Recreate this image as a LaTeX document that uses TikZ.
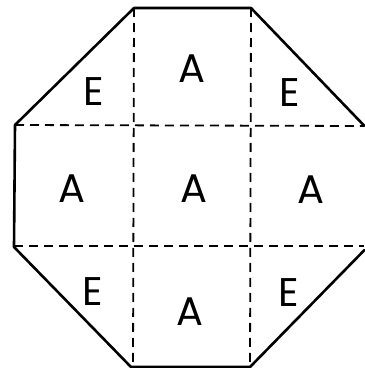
\documentclass[tikz,border=0pt]{standalone}
\usepackage{fontspec}
\setmainfont{Poppins}
\begin{document}
\begin{tikzpicture}[x=1pt,y=1pt,
  edge/.style={line width=2.6pt,line join=round,line cap=round},
  grid/.style={line width=1.8pt,dash pattern=on 9pt off 6pt},
  letter/.style={inner sep=0pt,font=\fontsize{40}{40}\selectfont}]
\useasboundingbox (0,0) rectangle (365,368);
% vertices (y = 368 - pixel y)
\coordinate (t1) at (134,360);
\coordinate (t2) at (251,360);
\coordinate (r1) at (364.5,242);
\coordinate (r2) at (364.5,118);
\coordinate (b2) at (250,1);
\coordinate (b1) at (131,1);
\coordinate (l2) at (14,121);
\coordinate (l1) at (15,243);
% grid ends
\coordinate (v1t) at (134,360);
\coordinate (v1b) at (133,1);
\coordinate (v2t) at (251,360);
\coordinate (v2b) at (250,1);
\coordinate (h1l) at (15,243);
\coordinate (h1r) at (364.5,242);
\coordinate (h2l) at (14,122);
\coordinate (h2r) at (364.5,122);
\draw[grid] (v1t) -- (v1b);
\draw[grid] (v2t) -- (v2b);
\draw[grid] (h1l) -- (h1r);
\draw[grid] (h2l) -- (h2r);
\draw[edge] (r1) -- (t2) -- (t1) -- (l1) -- (l2) -- (b1) -- (b2) -- (r2);
% letters
\node[letter] (e1) at (94,276) {E};
\node[letter] (a1) at (192,299) {A};
\node[letter] (e2) at (290,275) {E};
\node[letter] (a2) at (71.5,179) {A};
\node[letter] (a3) at (193.5,179) {A};
\node[letter] (a4) at (310.5,178) {A};
\node[letter] (e3) at (92.5,76) {E};
\node[letter] (a5) at (190,56) {A};
\node[letter] (e4) at (289,75) {E};
\end{tikzpicture}
\end{document}
